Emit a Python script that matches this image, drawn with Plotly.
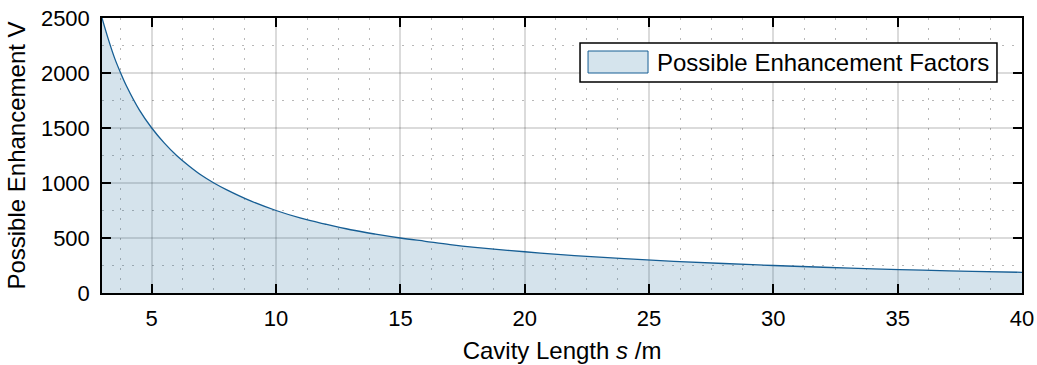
import plotly.graph_objects as go

# Cavity length s (m) and the possible enhancement factor V at each length
cavity_length = [3, 3.25, 3.5, 3.75, 4, 4.5, 5, 5.5, 6, 6.5, 7, 7.5, 8, 9, 10,
                 11, 12, 13, 14, 15, 16, 17, 18, 20, 22, 24, 26, 28, 30,
                 32, 34, 36, 38, 40]
enhancement = [2500, 2310, 2140, 2000, 1875, 1665, 1500, 1365, 1250, 1155, 1070,
               1000, 940, 835, 750, 680, 625, 575, 535, 500, 470, 440, 415,
               375, 340, 312, 288, 268, 250, 234, 220, 208, 197, 188]

x_ticks = [5, 10, 15, 20, 25, 30, 35, 40]
y_ticks = [0, 500, 1000, 1500, 2000, 2500]
legend_label = "Possible Enhancement Factors"

LINE = "rgb(22,94,148)"
FILL = "rgba(20,100,150,0.18)"
FONT = "Liberation Sans, Arial, sans-serif"

# dotted minor grid positions between the major ticks
x_minor = [3.75 + 1.25 * i for i in range(30) if (3.75 + 1.25 * i) % 5 != 0 and 3.75 + 1.25 * i < 40]
y_minor = [250 + 500 * i for i in range(5)]

fig = go.Figure()
fig.add_trace(go.Scatter(
    x=cavity_length, y=enhancement,
    mode="lines", line=dict(color=LINE, width=1.3, shape="spline"),
    fill="tozeroy", fillcolor=FILL, showlegend=False,
))

axis_common = dict(
    showline=True, linecolor="black", linewidth=1.5, mirror="ticks",
    ticks="inside", ticklen=9, tickwidth=1.5, tickcolor="black",
    showgrid=True, gridcolor="rgba(0,0,0,0.14)", gridwidth=1.5,
    zeroline=False, automargin=False,
    tickfont=dict(family=FONT, size=22, color="black"),
)
minor_grid = dict(showgrid=True, gridcolor="rgba(0,0,0,0.28)",
                  griddash="2px,8px", gridwidth=1, ticks="")

fig.update_xaxes(
    range=[3, 40], tickvals=x_ticks, ticklabelstandoff=5,
    minor=dict(tickvals=x_minor, **minor_grid),
    title=dict(text="Cavity Length <i>s</i> /m", font=dict(family=FONT, size=24, color="black"),
               standoff=12),
    **axis_common,
)
fig.update_yaxes(
    range=[0, 2500], tickvals=y_ticks, ticklabelstandoff=6,
    minor=dict(tickvals=y_minor, **minor_grid),
    title=dict(text="Possible Enhancement V", font=dict(family=FONT, size=24, color="black"),
               standoff=8),
    **axis_common,
)

# Legend box with a filled swatch
fig.add_shape(type="rect", xref="paper", yref="paper",
              x0=0.5196, x1=0.9728, y0=0.767, y1=0.909,
              line=dict(color="black", width=1.5), fillcolor="white", layer="above")
fig.add_shape(type="rect", xref="paper", yref="paper",
              x0=0.5283, x1=0.5935, y0=0.800, y1=0.880,
              line=dict(color=LINE, width=1), fillcolor="rgb(213,228,237)", layer="above")
fig.add_annotation(xref="paper", yref="paper", x=0.601, y=0.84,
                   xanchor="left", yanchor="middle", showarrow=False,
                   text=legend_label, font=dict(family=FONT, size=24, color="black"))

fig.update_layout(
    width=1037, height=365,
    margin=dict(l=102, r=15, t=18, b=72),
    paper_bgcolor="white", plot_bgcolor="white",
)

fig.write_html("out.html")
